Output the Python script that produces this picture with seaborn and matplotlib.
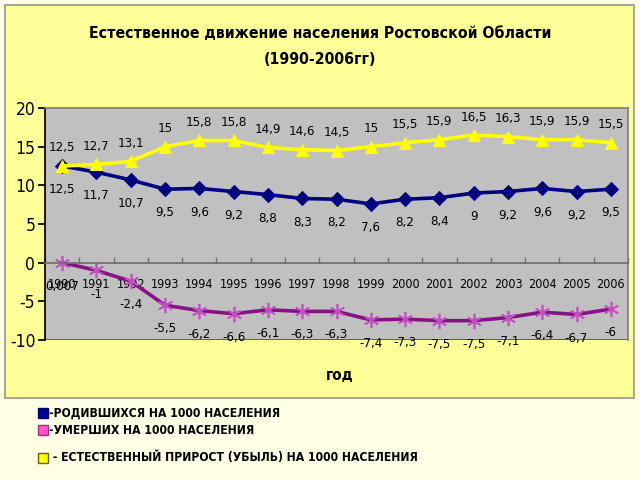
import matplotlib
matplotlib.use("Agg")
import matplotlib.pyplot as plt
import seaborn as sns
import pandas as pd
import numpy as np
from matplotlib.patches import Rectangle

# ---- data ----
years = list(range(1990, 2007))
births = [12.5, 11.7, 10.7, 9.5, 9.6, 9.2, 8.8, 8.3, 8.2, 7.6, 8.2, 8.4, 9, 9.2, 9.6, 9.2, 9.5]
natural = [12.5, 12.7, 13.1, 15, 15.8, 15.8, 14.9, 14.6, 14.5, 15, 15.5, 15.9, 16.5, 16.3, 15.9, 15.9, 15.5]
deaths = [0.007, -1, -2.4, -5.5, -6.2, -6.6, -6.1, -6.3, -6.3, -7.4, -7.3, -7.5, -7.5, -7.1, -6.4, -6.7, -6]
yticks = [-10, -5, 0, 5, 10, 15, 20]
title1 = "Естественное движение населения Ростовской Области"
title2 = "(1990-2006гг)"
xlabel = "год"
legend_labels = ["-РОДИВШИХСЯ НА 1000 НАСЕЛЕНИЯ",
                 "-УМЕРШИХ НА 1000 НАСЕЛЕНИЯ",
                 " - ЕСТЕСТВЕННЫЙ ПРИРОСТ (УБЫЛЬ) НА 1000 НАСЕЛЕНИЯ"]

sns.set_theme(style="white")
plt.rcParams["font.family"] = ["Liberation Sans Narrow", "DejaVu Sans"]
plt.rcParams["font.stretch"] = "condensed"
plt.rcParams["text.color"] = "black"
plt.rcParams["xtick.color"] = "black"
plt.rcParams["ytick.color"] = "black"

df = pd.DataFrame({"year": years, "births": births, "natural": natural, "deaths": deaths})

fig = plt.figure(figsize=(6.4, 4.8), dpi=100, facecolor="#FFFFE6")
panel = Rectangle((5/640, 82/480), 629/640, 393/480, transform=fig.transFigure,
                  facecolor="#FFFF99", edgecolor="#A8A8A0", lw=1.5, zorder=-5)
fig.patches.append(panel)
ax = fig.add_axes([45/640, 140/480, 583/640, 232/480])
ax.set_zorder(2)
ax.set_facecolor("#C0C0C0")

sns.lineplot(data=df, x="year", y="births", ax=ax, color="#000080", lw=2.6,
             marker="D", markersize=7, markeredgecolor="#000080")
sns.lineplot(data=df, x="year", y="natural", ax=ax, color="#FFFF00", lw=2.6,
             marker="^", markersize=9, markeredgecolor="#FFFF00")
sns.lineplot(data=df, x="year", y="deaths", ax=ax, color="#861286", lw=2.6,
             marker=(6, 2, 0), markersize=11, markeredgewidth=1.2, markeredgecolor="#C050C0")

def fmt(v):
    return ("%g" % v).replace(".", ",")

for x, v in zip(years, natural):
    ax.annotate(fmt(v), (x, v), xytext=(0, 13), textcoords="offset points",
                ha="center", va="center", fontsize=9.5)
for x, v in zip(years, births):
    ax.annotate(fmt(v), (x, v), xytext=(0, -17), textcoords="offset points",
                ha="center", va="center", fontsize=9.5)
for x, v in zip(years, deaths):
    ax.annotate(fmt(v), (x, v), xytext=(0, -17), textcoords="offset points",
                ha="center", va="center", fontsize=9.5)

# spine position first (it resets ticks)
ax.spines["bottom"].set_position(("data", 0))
ax.spines["bottom"].set_color("#707070")
ax.spines["left"].set_color("black")
ax.spines["top"].set_color("#808080")
ax.spines["right"].set_color("#808080")

ax.set_xlim(1989.5, 2006.5)
ax.set_ylim(-10, 20)
ax.set_yticks(yticks)
ax.set_yticklabels([str(t) for t in yticks])
ax.set_xticks(years)
ax.set_xticklabels([str(y) for y in years])
ax.set_xticks(np.arange(1989.5, 2007, 1), minor=True)
ax.set_xlabel("")
ax.set_ylabel("")
ax.tick_params(axis="x", which="major", length=0, pad=11, labelsize=9)
ax.tick_params(axis="x", which="minor", length=4, direction="in", color="#707070", bottom=True)
ax.tick_params(axis="y", direction="out", length=5, left=True, color="black", pad=2, labelsize=12.5)
ax.add_patch(Rectangle((0, 0), 1, 0.004, transform=ax.transAxes, facecolor="#606060",
                       edgecolor="none", clip_on=False))

fig.text(0.5, 1 - 33/480, title1, ha="center", va="center", fontsize=11.3, weight="bold")
fig.text(0.5, 1 - 60/480, title2, ha="center", va="center", fontsize=11.3, weight="bold")
fig.text(340/640, 1 - 375/480, xlabel, ha="center", va="center", fontsize=11, weight="bold")

leg_colors = [("#000099", "#000066"), ("#FF55CC", "#993377"), ("#FFFF00", "#666600")]
leg_y = [413, 430, 458]
for (fc, ec), lab, yy in zip(leg_colors, legend_labels, leg_y):
    fig.patches.append(Rectangle((38/640, 1 - (yy + 5)/480), 10/640, 10/480,
                                 transform=fig.transFigure, facecolor=fc, edgecolor=ec, lw=1))
    fig.text(49/640, 1 - yy/480, lab, ha="left", va="center", fontsize=8.7, weight="bold")

fig.savefig("out.png", dpi=100, facecolor=fig.get_facecolor())
